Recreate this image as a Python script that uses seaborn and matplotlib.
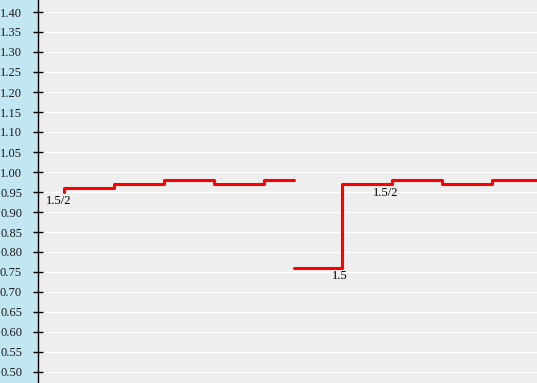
import numpy as np
import pandas as pd
import matplotlib
matplotlib.use("Agg")
import matplotlib.pyplot as plt
import seaborn as sns

# Data (x in arbitrary step units, y values)
s1_x = [0.52, 0.52, 1.52, 2.52, 3.52, 4.52, 5.12]
s1_y = [0.95, 0.96, 0.97, 0.98, 0.97, 0.98, 0.98]
s2_x = [5.12, 6.08, 7.08, 8.08, 9.08, 9.98]
s2_y = [0.76, 0.97, 0.98, 0.97, 0.98, 0.98]
ytick_vals = [0.50, 0.55, 0.60, 0.65, 0.70, 0.75, 0.80, 0.85, 0.90, 0.95,
              1.00, 1.05, 1.10, 1.15, 1.20, 1.25, 1.30, 1.35, 1.40]
labels_text = ["1.5/2", "1.5/2", "1.5"]
labels_x = [0.16, 6.70, 5.88]
labels_y = [0.9275, 0.9475, 0.739]

sns.set_style("darkgrid", {"axes.facecolor": "#EEEEEE", "grid.color": "white"})
plt.rcParams['font.family'] = ['Liberation Serif', 'DejaVu Serif']

fig = plt.figure(figsize=(5.37, 3.83), dpi=100, facecolor="#C2E6F2")
ax = fig.add_axes([38 / 537, 0, 499 / 537, 1])
ax.set_facecolor("#EEEEEE")

df1 = pd.DataFrame({"x": s1_x, "y": s1_y})
df2 = pd.DataFrame({"x": s2_x, "y": s2_y})
sns.lineplot(data=df1, x="x", y="y", ax=ax, estimator=None, sort=False,
             color="#FF0000", linewidth=2.2, drawstyle="steps-post")
sns.lineplot(data=df2, x="x", y="y", ax=ax, estimator=None, sort=False,
             color="#FF0000", linewidth=2.2, drawstyle="steps-post")

for t, x, y in zip(labels_text, labels_x, labels_y):
    ax.text(x, y, t, ha="left", va="center", fontsize=9, color="black")

ax.set_xlim(0, 9.98)
ax.set_ylim(0.4725, 1.43)
ax.set_yticks(ytick_vals)
ax.set_yticklabels([f"{v:.2f}" for v in ytick_vals], fontsize=9, color="#1a1a1a")
ax.set_xticks([])
ax.set_xlabel("")
ax.set_ylabel("")
ax.grid(True, axis="y", color="white", linewidth=0.9)
ax.grid(False, axis="x")
for side in ["top", "right", "bottom"]:
    ax.spines[side].set_visible(False)
ax.spines["left"].set_visible(True)
ax.spines["left"].set_color("black")
ax.spines["left"].set_linewidth(1.0)
ax.tick_params(axis="y", direction="inout", length=7, width=1, color="black", pad=8, left=True)

fig.savefig("out.png", dpi=100, facecolor=fig.get_facecolor())
